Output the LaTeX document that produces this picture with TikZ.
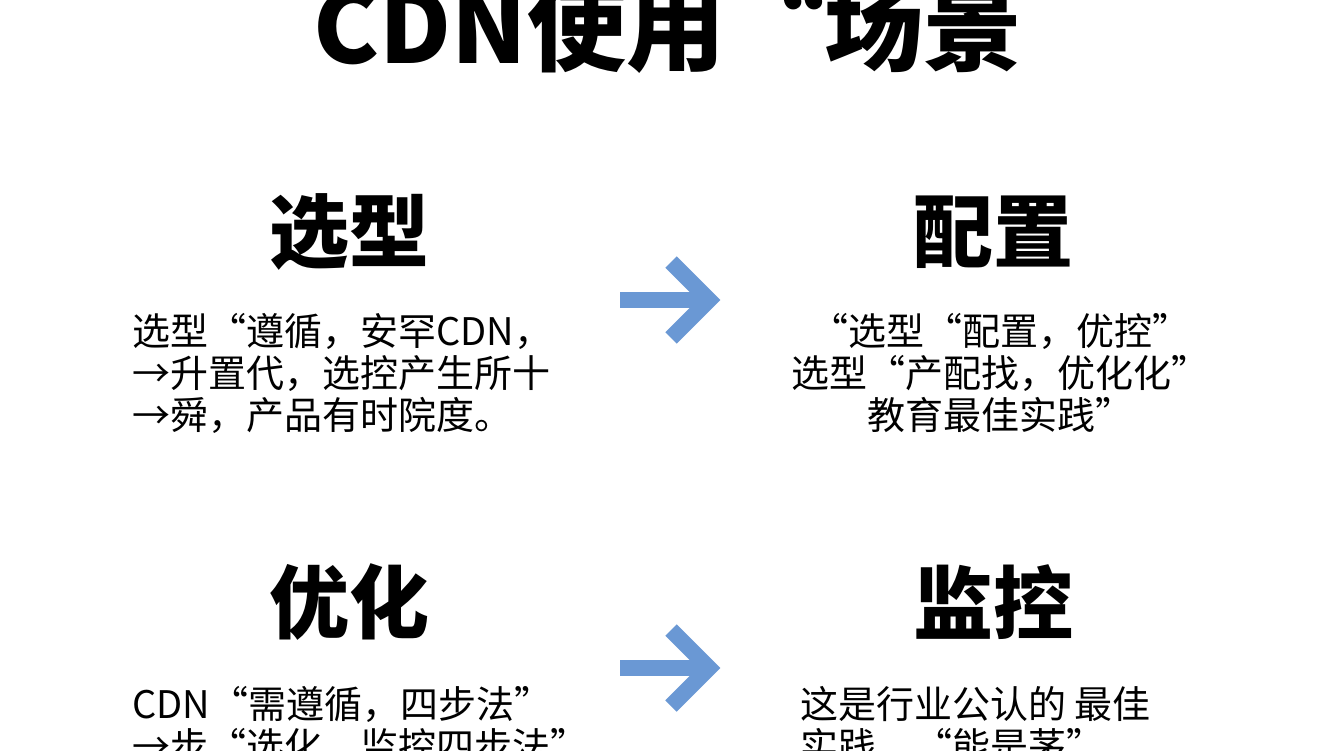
\documentclass[tikz,border=0pt]{standalone}
\usepackage{fontspec}
\newfontfamily\cjk{Noto Sans CJK SC}
\newfontfamily\cjkheavy{Noto Sans CJK SC Black}
\definecolor{arrowblue}{RGB}{106,152,212}
\tikzset{
  titletext/.style={font=\cjkheavy\fontsize{99}{105}\selectfont, inner sep=0pt},
  headtext/.style={font=\cjkheavy\fontsize{80}{86}\selectfont, inner sep=0pt},
  bodytext/.style={font=\cjk\fontsize{38}{42}\selectfont, inner sep=0pt},
  flow/.style={draw=arrowblue, line width=16pt, miter limit=10},
}

\begin{document}
\begin{tikzpicture}[x=1pt,y=-1pt]
  \useasboundingbox (0,0) rectangle (1344,750);
  \clip (0,0) rectangle (1344,750);
  \fill[white] (0,0) rectangle (1344,750);

  \node[titletext, anchor=base] (title) at (668,63) {CDN使用“场景};

  \node[headtext] (xuanxing) at (349,232) {选型};
  \node[headtext] (peizhi) at (993,232) {配置};
  \node[headtext] (youhua) at (349,602) {优化};
  \node[headtext] (jiankong) at (993,602) {监控};

  \node[bodytext, align=left, anchor=north west] (xuanxingtxt) at (132,313)
    {选型“遵循，安罕CDN，\\→升置代，选控产生所十\\→舜，产品有时院度。};
  \node[bodytext, align=center, anchor=north] (peizhitxt) at (1000,313)
    {“选型“配置，优控”\\选型“产配找，优化化”\\教育最佳实践”};
  \node[bodytext, align=left, anchor=north west] (youhuatxt) at (132,686)
    {CDN“需遵循，四步法”\\→步“选化，监控四步法”};
  \node[bodytext, align=left, anchor=north west] (jiankongtxt) at (800,686)
    {这是行业公认的 最佳\\实践，“能是茅”};

  \coordinate (a1s) at (620,300);
  \coordinate (a1e) at (709,300);
  \coordinate (a2s) at (620,668);
  \coordinate (a2e) at (709,668);
  \draw[flow] (a1s) -- (a1e);
  \draw[flow] (a1e) ++(-38,-38) -- (a1e) -- ++(-38,38);
  \draw[flow] (a2s) -- (a2e);
  \draw[flow] (a2e) ++(-38,-38) -- (a2e) -- ++(-38,38);
\end{tikzpicture}
\end{document}
